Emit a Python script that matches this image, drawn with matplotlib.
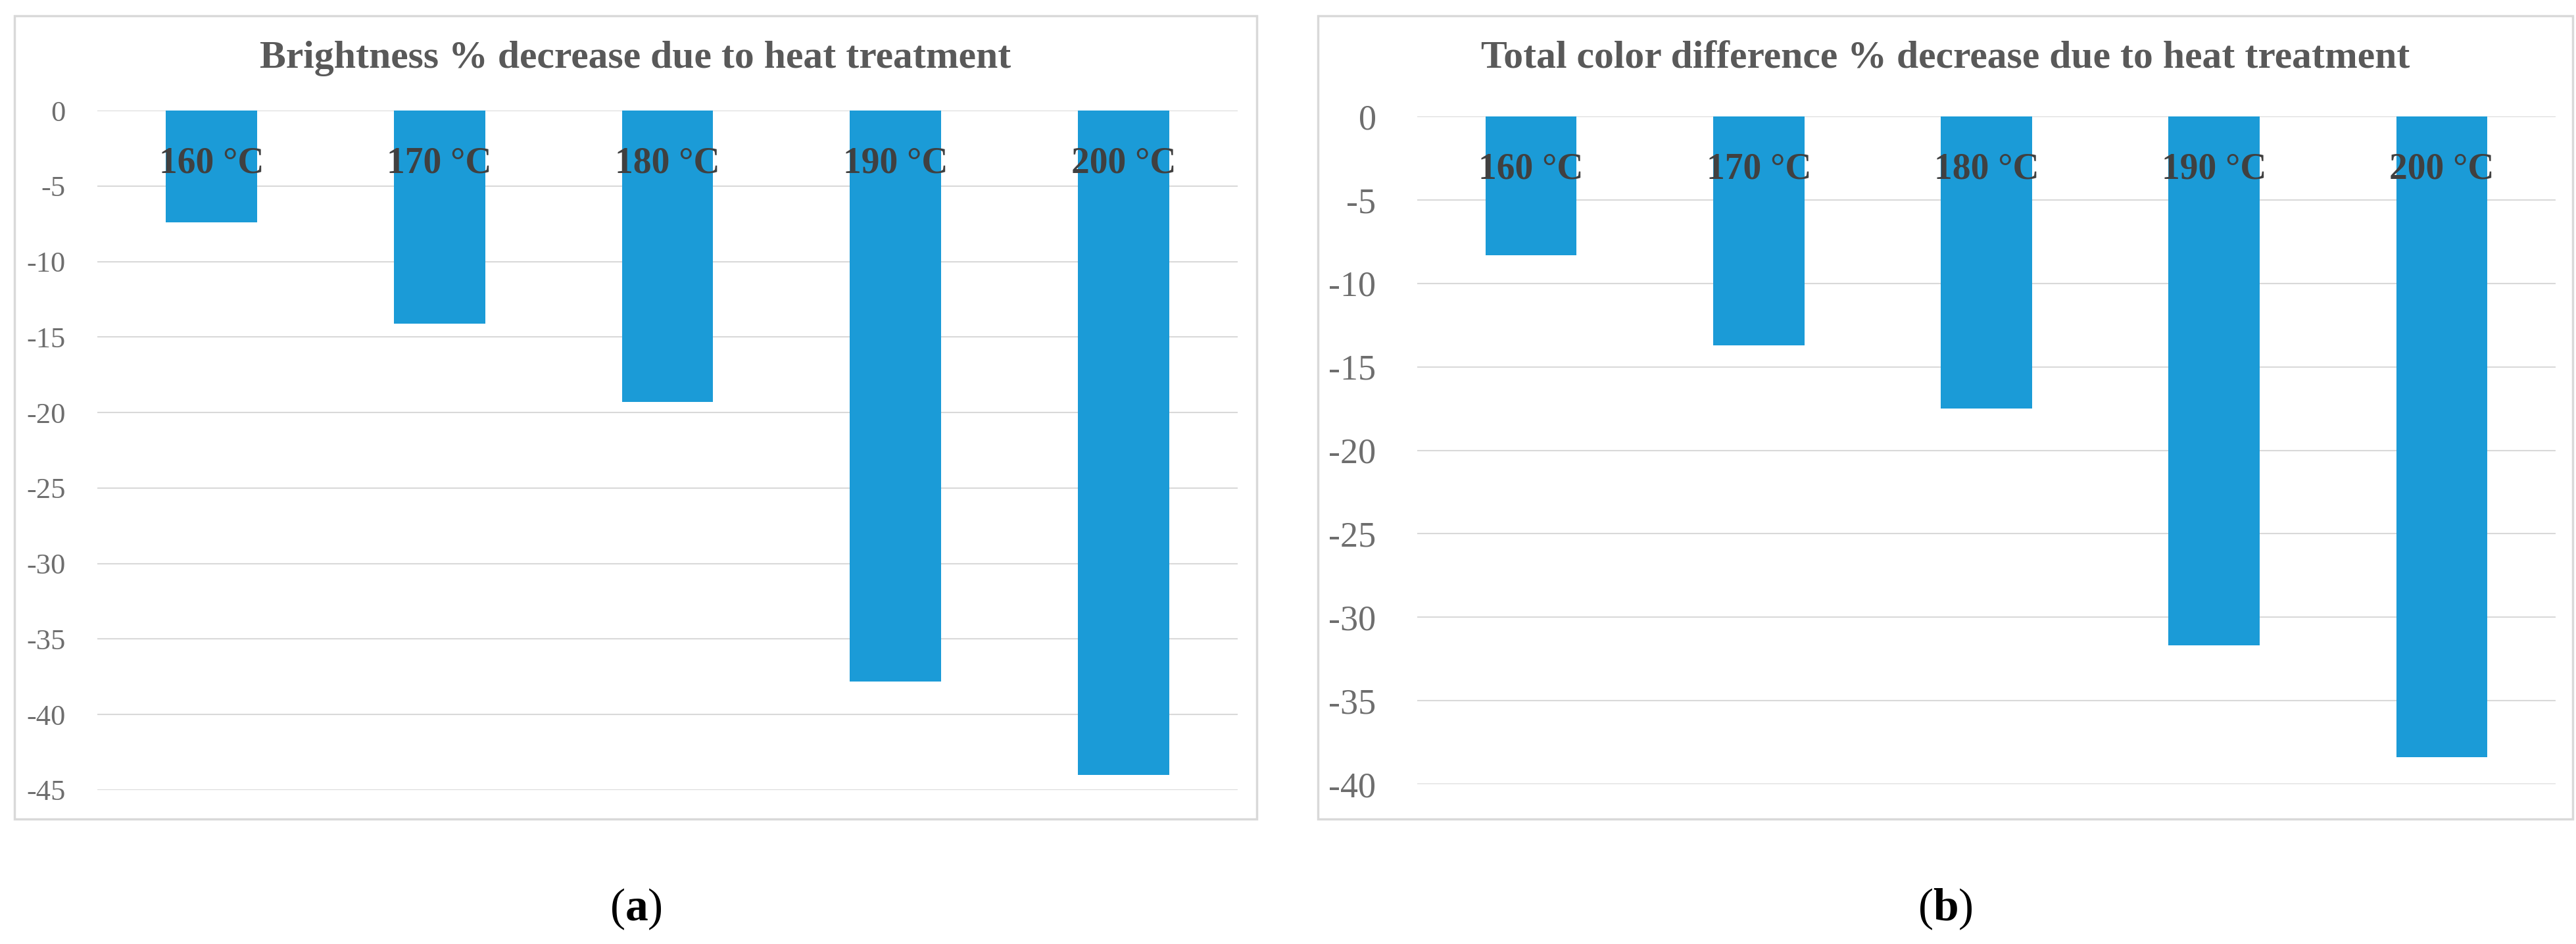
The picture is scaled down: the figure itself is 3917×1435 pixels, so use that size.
import matplotlib
matplotlib.use("Agg")
import matplotlib.pyplot as plt
from matplotlib.patches import Rectangle

plt.rcParams['font.family'] = ['Liberation Serif', 'DejaVu Serif']
plt.rcParams['mathtext.fontset'] = 'custom'
plt.rcParams['mathtext.rm'] = 'Liberation Serif'
plt.rcParams['mathtext.bf'] = 'Liberation Serif:bold'

# data
categories = ['160 °C', '170 °C', '180 °C', '190 °C', '200 °C']
brightness = [-7.4, -14.1, -19.3, -37.8, -44.0]
color_diff = [-8.3, -13.7, -17.5, -31.7, -38.4]
titles = ['Brightness % decrease due to heat treatment',
          'Total color difference % decrease due to heat treatment']
yticks_a = [0, -5, -10, -15, -20, -25, -30, -35, -40, -45]
yticks_b = [0, -5, -10, -15, -20, -25, -30, -35, -40]
panel_labels = [r'($\mathbf{a}$)', r'($\mathbf{b}$)']

W, H = 3917, 1435
BAR = '#1B9BD7'
GRID = '#D9D9D9'

fig = plt.figure(figsize=(W / 100, H / 100), dpi=100)


def px_box(x0, y0, x1, y1):
    # pixel box (top-left origin) -> figure fraction [l, b, w, h]
    return [x0 / W, 1 - y1 / H, (x1 - x0) / W, (y1 - y0) / H]


def draw_panel(axbox, panel, values, yticks, title, label, tick_size, tick_pad):
    ax = fig.add_axes(px_box(*axbox))
    x = list(range(len(categories)))
    ax.bar(x, values, width=0.4, color=BAR, zorder=1)
    ax.set_xlim(-0.5, len(categories) - 0.5)
    ax.set_ylim(min(yticks), 0)
    # x axis sits on the zero line, labels hang down into the bars
    ax.spines['bottom'].set_position(('data', 0))
    for s in ax.spines.values():
        s.set_visible(False)
    ax.set_yticks(yticks)
    ax.set_yticklabels([str(t) for t in yticks])
    ax.set_xticks(x)
    ax.set_xticklabels(categories)
    ax.tick_params(axis='x', length=0, pad=39, labelsize=40, labelcolor='#404040')
    for t in ax.get_xticklabels():
        t.set_fontweight('bold')
    ax.tick_params(axis='y', length=0, pad=tick_pad, labelsize=tick_size, labelcolor='#6E6E6E')
    ax.grid(axis='y', color=GRID, linewidth=1.5)
    ax.set_axisbelow(True)
    ax.xaxis.set_zorder(3)

    # chart frame
    l, b, w, h = px_box(*panel)
    fig.add_artist(Rectangle((l, b), w, h, transform=fig.transFigure, fill=False,
                             edgecolor=GRID, linewidth=2.5))
    cx = l + w / 2
    fig.text(cx, 1 - 103 / H, title, ha='center', va='baseline', fontsize=43,
             fontweight='bold', color='#595959')
    fig.text(cx, 1 - 1382 / H, label, ha='center', va='center', fontsize=50, color='black')
    return ax


draw_panel((148, 168, 1882, 1201), (22, 24, 1911, 1245), brightness, yticks_a,
           titles[0], panel_labels[0], 32, 35)
draw_panel((2155, 177, 3886, 1192), (2004, 24, 3912, 1245), color_diff, yticks_b,
           titles[1], panel_labels[1], 39, 45)

fig.savefig('out.png', dpi=100, facecolor='white')
